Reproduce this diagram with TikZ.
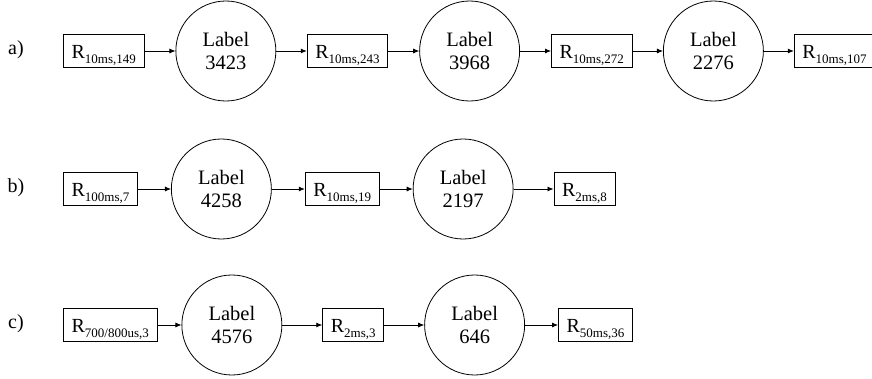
\documentclass[tikz,border=0pt]{standalone}
\usepackage{fontspec}
\setmainfont{Liberation Serif}
\usetikzlibrary{positioning,arrows.meta}
% R with its lowered index
\newcommand{\rsub}[1]{R\raisebox{-5pt}{\fontsize{13}{13}\selectfont #1}}
\tikzset{reg/.style={draw, rectangle, line width=0.8pt, minimum height=33pt,
        inner xsep=8.2pt, inner ysep=0pt, text height=15pt, text depth=0pt,
        font=\fontsize{20}{23}\selectfont},
    lbl/.style={draw, circle, line width=0.8pt, minimum size=100pt, inner sep=0pt,
        align=center, font=\fontsize{20.5}{23}\selectfont},
    rowname/.style={font=\fontsize{20}{23}\selectfont},
    link/.style={-{Latex[length=6pt,width=5pt]}, line width=0.8pt}}

\begin{document}
\begin{tikzpicture}[x=1pt, y=1pt]
    \useasboundingbox (0,0) rectangle (872,378);
    % row a
    \node[rowname] (na) at (16,328) {a)};
    \node[reg, anchor=west] (a1) at (63,327) {\rsub{10ms,149}};
    \node[lbl, right=31pt of a1] (a2) {Label\\3423};
    \node[reg, right=30.5pt of a2] (a3) {\rsub{10ms,243}};
    \node[lbl, right=31pt of a3] (a4) {Label\\3968};
    \node[reg, right=31pt of a4] (a5) {\rsub{10ms,272}};
    \node[lbl, right=30.5pt of a5] (a6) {Label\\2276};
    \node[reg, right=30pt of a6] (a7) {\rsub{10ms,107}};
    \draw[link] (a1) -- (a2);
    \draw[link] (a2) -- (a3);
    \draw[link] (a3) -- (a4);
    \draw[link] (a4) -- (a5);
    \draw[link] (a5) -- (a6);
    \draw[link] (a6) -- (a7);
    % row b
    \node[rowname] (nb) at (16,190) {b)};
    \node[reg, anchor=west] (b1) at (63,189) {\rsub{100ms,7}};
    \node[lbl, right=33pt of b1] (b2) {Label\\4258};
    \node[reg, right=33pt of b2] (b3) {\rsub{10ms,19}};
    \node[lbl, right=33pt of b3] (b4) {Label\\2197};
    \node[reg, right=40pt of b4] (b5) {\rsub{2ms,8}};
    \draw[link] (b1) -- (b2);
    \draw[link] (b2) -- (b3);
    \draw[link] (b3) -- (b4);
    \draw[link] (b4) -- (b5);
    % row c
    \node[rowname] (nc) at (16,54) {c)};
    \node[reg, anchor=west] (c1) at (63,53) {\rsub{700/800us,3}};
    \node[lbl, right=24pt of c1] (c2) {Label\\4576};
    \node[reg, right=40pt of c2] (c3) {\rsub{2ms,3}};
    \node[lbl, right=40pt of c3] (c4) {Label\\646};
    \node[reg, right=33pt of c4] (c5) {\rsub{50ms,36}};
    \draw[link] (c1) -- (c2);
    \draw[link] (c2) -- (c3);
    \draw[link] (c3) -- (c4);
    \draw[link] (c4) -- (c5);
\end{tikzpicture}
\end{document}
